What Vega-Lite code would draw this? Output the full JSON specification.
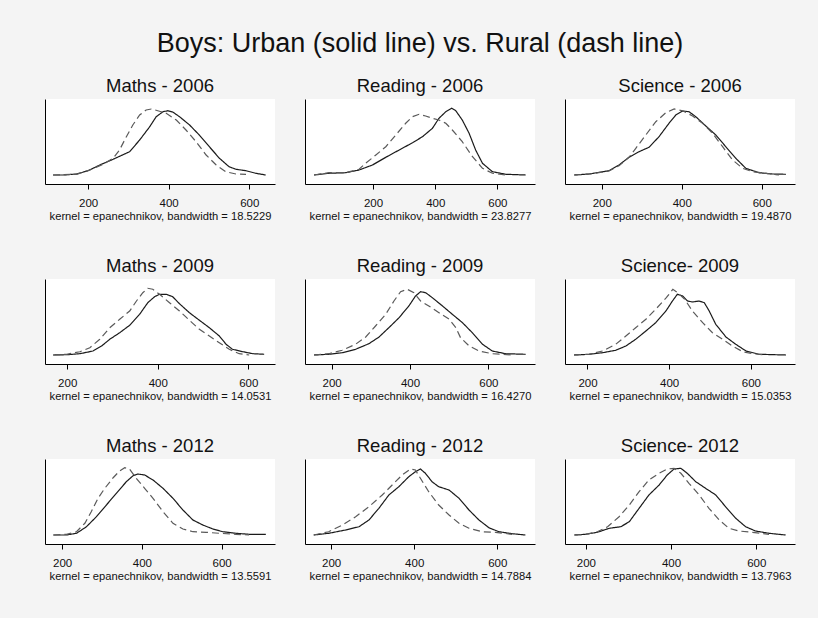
{
"$schema": "https://vega.github.io/schema/vega-lite/v6.json",
"background": "#f4f4f4",
"padding": {"left": 45, "top": 29, "right": 23, "bottom": 37},
"title": {"text": "Boys: Urban (solid line) vs. Rural (dash line)", "fontSize": 27, "fontWeight": "normal", "color": "#111", "anchor": "middle", "offset": 19},
"columns": 3,
"spacing": {"row": 34, "column": 30},
"datasets": {
"m06": [
{"area":"Urban","score":113,"density":0},{"area":"Urban","score":138,"density":0},{"area":"Urban","score":171,"density":0.00007},{"area":"Urban","score":200,"density":0.0003},{"area":"Urban","score":229,"density":0.0007},{"area":"Urban","score":262,"density":0.0011},{"area":"Urban","score":303,"density":0.00163},{"area":"Urban","score":328,"density":0.00245},{"area":"Urban","score":353,"density":0.00338},{"area":"Urban","score":369,"density":0.00408},{"area":"Urban","score":386,"density":0.00443},{"area":"Urban","score":398,"density":0.0045},{"area":"Urban","score":410,"density":0.00441},{"area":"Urban","score":427,"density":0.00408},{"area":"Urban","score":452,"density":0.0035},{"area":"Urban","score":476,"density":0.0028},{"area":"Urban","score":501,"density":0.00198},{"area":"Urban","score":526,"density":0.00117},{"area":"Urban","score":550,"density":0.00058},{"area":"Urban","score":567,"density":0.0004},{"area":"Urban","score":592,"density":0.0003},{"area":"Urban","score":616,"density":0.00012},{"area":"Urban","score":641,"density":0},
{"area":"Rural","score":113,"density":0},{"area":"Rural","score":171,"density":0.00005},{"area":"Rural","score":204,"density":0.00035},{"area":"Rural","score":237,"density":0.00075},{"area":"Rural","score":262,"density":0.00117},{"area":"Rural","score":278,"density":0.00175},{"area":"Rural","score":295,"density":0.00268},{"area":"Rural","score":311,"density":0.0035},{"area":"Rural","score":328,"density":0.0042},{"area":"Rural","score":344,"density":0.00455},{"area":"Rural","score":357,"density":0.00462},{"area":"Rural","score":373,"density":0.0045},{"area":"Rural","score":394,"density":0.00432},{"area":"Rural","score":419,"density":0.00385},{"area":"Rural","score":443,"density":0.00315},{"area":"Rural","score":468,"density":0.00233},{"area":"Rural","score":493,"density":0.0014},{"area":"Rural","score":518,"density":0.0007},{"area":"Rural","score":542,"density":0.00023},{"area":"Rural","score":567,"density":0.00007},{"area":"Rural","score":592,"density":0.00005}
],
"r06": [
{"area":"Urban","score":10,"density":0},{"area":"Urban","score":58,"density":0.00012},{"area":"Urban","score":112,"density":0.00016},{"area":"Urban","score":155,"density":0.00035},{"area":"Urban","score":198,"density":0.0007},{"area":"Urban","score":241,"density":0.00124},{"area":"Urban","score":284,"density":0.00175},{"area":"Urban","score":327,"density":0.00226},{"area":"Urban","score":359,"density":0.00268},{"area":"Urban","score":391,"density":0.00327},{"area":"Urban","score":412,"density":0.00397},{"area":"Urban","score":434,"density":0.00443},{"area":"Urban","score":453,"density":0.00467},{"area":"Urban","score":466,"density":0.0045},{"area":"Urban","score":487,"density":0.00385},{"area":"Urban","score":509,"density":0.00292},{"area":"Urban","score":530,"density":0.00175},{"area":"Urban","score":552,"density":0.00082},{"area":"Urban","score":584,"density":0.00023},{"area":"Urban","score":627,"density":0.00005},{"area":"Urban","score":691,"density":0},
{"area":"Rural","score":10,"density":0},{"area":"Rural","score":58,"density":0.00016},{"area":"Rural","score":112,"density":0.00016},{"area":"Rural","score":155,"density":0.0004},{"area":"Rural","score":176,"density":0.00082},{"area":"Rural","score":209,"density":0.0014},{"area":"Rural","score":241,"density":0.00198},{"area":"Rural","score":273,"density":0.0028},{"area":"Rural","score":305,"density":0.00362},{"area":"Rural","score":327,"density":0.00408},{"area":"Rural","score":348,"density":0.00425},{"area":"Rural","score":369,"density":0.00413},{"area":"Rural","score":391,"density":0.00397},{"area":"Rural","score":412,"density":0.00385},{"area":"Rural","score":434,"density":0.00362},{"area":"Rural","score":455,"density":0.00315},{"area":"Rural","score":487,"density":0.00233},{"area":"Rural","score":520,"density":0.00128},{"area":"Rural","score":552,"density":0.00047},{"area":"Rural","score":584,"density":0.00012},{"area":"Rural","score":627,"density":0}
],
"s06": [
{"area":"Urban","score":131,"density":0},{"area":"Urban","score":168,"density":0.00007},{"area":"Urban","score":218,"density":0.0003},{"area":"Urban","score":243,"density":0.0007},{"area":"Urban","score":268,"density":0.00124},{"area":"Urban","score":293,"density":0.00163},{"area":"Urban","score":318,"density":0.00194},{"area":"Urban","score":343,"density":0.00268},{"area":"Urban","score":368,"density":0.00362},{"area":"Urban","score":385,"density":0.0042},{"area":"Urban","score":402,"density":0.00448},{"area":"Urban","score":418,"density":0.00443},{"area":"Urban","score":435,"density":0.00408},{"area":"Urban","score":460,"density":0.00343},{"area":"Urban","score":485,"density":0.0028},{"area":"Urban","score":510,"density":0.00198},{"area":"Urban","score":535,"density":0.00117},{"area":"Urban","score":560,"density":0.00047},{"area":"Urban","score":593,"density":0.00016},{"area":"Urban","score":627,"density":0.00007},{"area":"Urban","score":660,"density":0.00005},
{"area":"Rural","score":131,"density":0},{"area":"Rural","score":177,"density":0.00009},{"area":"Rural","score":218,"density":0.00028},{"area":"Rural","score":243,"density":0.00065},{"area":"Rural","score":268,"density":0.00124},{"area":"Rural","score":285,"density":0.00187},{"area":"Rural","score":310,"density":0.0028},{"area":"Rural","score":335,"density":0.00373},{"area":"Rural","score":360,"density":0.00436},{"area":"Rural","score":381,"density":0.00462},{"area":"Rural","score":402,"density":0.0045},{"area":"Rural","score":427,"density":0.00413},{"area":"Rural","score":452,"density":0.00362},{"area":"Rural","score":477,"density":0.00292},{"area":"Rural","score":502,"density":0.00198},{"area":"Rural","score":527,"density":0.00105},{"area":"Rural","score":552,"density":0.00047},{"area":"Rural","score":577,"density":0.00023},{"area":"Rural","score":610,"density":0.00012},{"area":"Rural","score":643,"density":0}
],
"m09": [
{"area":"Urban","score":169,"density":0},{"area":"Urban","score":199,"density":0.00002},{"area":"Urban","score":228,"density":0.00009},{"area":"Urban","score":257,"density":0.00028},{"area":"Urban","score":276,"density":0.00063},{"area":"Urban","score":294,"density":0.0011},{"area":"Urban","score":316,"density":0.00156},{"area":"Urban","score":338,"density":0.00208},{"area":"Urban","score":360,"density":0.00285},{"area":"Urban","score":378,"density":0.00366},{"area":"Urban","score":393,"density":0.00408},{"area":"Urban","score":404,"density":0.00425},{"area":"Urban","score":419,"density":0.00425},{"area":"Urban","score":433,"density":0.00408},{"area":"Urban","score":448,"density":0.00359},{"area":"Urban","score":470,"density":0.00296},{"area":"Urban","score":492,"density":0.00243},{"area":"Urban","score":514,"density":0.00191},{"area":"Urban","score":536,"density":0.00133},{"area":"Urban","score":551,"density":0.00075},{"area":"Urban","score":565,"density":0.0004},{"area":"Urban","score":588,"density":0.00023},{"area":"Urban","score":610,"density":0.00009},{"area":"Urban","score":635,"density":0.00005},
{"area":"Rural","score":169,"density":0},{"area":"Rural","score":199,"density":0.00005},{"area":"Rural","score":228,"density":0.00023},{"area":"Rural","score":250,"density":0.00051},{"area":"Rural","score":272,"density":0.0011},{"area":"Rural","score":294,"density":0.00191},{"area":"Rural","score":316,"density":0.0025},{"area":"Rural","score":338,"density":0.00308},{"area":"Rural","score":353,"density":0.00378},{"area":"Rural","score":367,"density":0.00436},{"area":"Rural","score":378,"density":0.00467},{"area":"Rural","score":389,"density":0.0046},{"area":"Rural","score":404,"density":0.00425},{"area":"Rural","score":426,"density":0.00366},{"area":"Rural","score":448,"density":0.00308},{"area":"Rural","score":470,"density":0.00243},{"area":"Rural","score":492,"density":0.0018},{"area":"Rural","score":514,"density":0.00133},{"area":"Rural","score":536,"density":0.00086},{"area":"Rural","score":558,"density":0.0004},{"area":"Rural","score":580,"density":0.00009},{"area":"Rural","score":602,"density":0}
],
"r09": [
{"area":"Urban","score":155,"density":0},{"area":"Urban","score":193,"density":0.00005},{"area":"Urban","score":227,"density":0.00016},{"area":"Urban","score":261,"density":0.0004},{"area":"Urban","score":295,"density":0.00079},{"area":"Urban","score":321,"density":0.00126},{"area":"Urban","score":346,"density":0.00191},{"area":"Urban","score":372,"density":0.00261},{"area":"Urban","score":397,"density":0.00343},{"area":"Urban","score":414,"density":0.00413},{"area":"Urban","score":427,"density":0.00443},{"area":"Urban","score":440,"density":0.00436},{"area":"Urban","score":457,"density":0.00401},{"area":"Urban","score":483,"density":0.00343},{"area":"Urban","score":508,"density":0.00285},{"area":"Urban","score":534,"density":0.00226},{"area":"Urban","score":559,"density":0.00156},{"area":"Urban","score":585,"density":0.00075},{"area":"Urban","score":610,"density":0.00028},{"area":"Urban","score":644,"density":0.00009},{"area":"Urban","score":695,"density":0.00005},
{"area":"Rural","score":155,"density":0},{"area":"Rural","score":193,"density":0.00009},{"area":"Rural","score":227,"density":0.00033},{"area":"Rural","score":261,"density":0.00075},{"area":"Rural","score":287,"density":0.00126},{"area":"Rural","score":312,"density":0.00203},{"area":"Rural","score":338,"density":0.00285},{"area":"Rural","score":359,"density":0.00378},{"area":"Rural","score":376,"density":0.00443},{"area":"Rural","score":393,"density":0.0046},{"area":"Rural","score":410,"density":0.00436},{"area":"Rural","score":427,"density":0.00378},{"area":"Rural","score":448,"density":0.00343},{"area":"Rural","score":474,"density":0.00296},{"area":"Rural","score":500,"density":0.0025},{"area":"Rural","score":517,"density":0.00191},{"area":"Rural","score":529,"density":0.00121},{"area":"Rural","score":551,"density":0.00063},{"area":"Rural","score":576,"density":0.00028},{"area":"Rural","score":610,"density":0.00009},{"area":"Rural","score":661,"density":0}
],
"s09": [
{"area":"Urban","score":167,"density":0},{"area":"Urban","score":204,"density":0.00005},{"area":"Urban","score":237,"density":0.00016},{"area":"Urban","score":269,"density":0.00033},{"area":"Urban","score":294,"density":0.00063},{"area":"Urban","score":318,"density":0.0011},{"area":"Urban","score":343,"density":0.00168},{"area":"Urban","score":367,"density":0.00226},{"area":"Urban","score":392,"density":0.00308},{"area":"Urban","score":408,"density":0.00378},{"area":"Urban","score":420,"density":0.00425},{"area":"Urban","score":433,"density":0.00413},{"area":"Urban","score":445,"density":0.00378},{"area":"Urban","score":457,"density":0.00371},{"area":"Urban","score":473,"density":0.00378},{"area":"Urban","score":486,"density":0.00366},{"area":"Urban","score":498,"density":0.00308},{"area":"Urban","score":514,"density":0.00215},{"area":"Urban","score":539,"density":0.00126},{"area":"Urban","score":563,"density":0.00075},{"area":"Urban","score":588,"density":0.00028},{"area":"Urban","score":620,"density":0.00005},{"area":"Urban","score":686,"density":0},
{"area":"Rural","score":167,"density":0},{"area":"Rural","score":204,"density":0.00005},{"area":"Rural","score":237,"density":0.00028},{"area":"Rural","score":269,"density":0.00075},{"area":"Rural","score":294,"density":0.00133},{"area":"Rural","score":318,"density":0.00191},{"area":"Rural","score":343,"density":0.0025},{"area":"Rural","score":367,"density":0.0032},{"area":"Rural","score":393,"density":0.00401},{"area":"Rural","score":409,"density":0.0046},{"area":"Rural","score":421,"density":0.00436},{"area":"Rural","score":438,"density":0.0039},{"area":"Rural","score":457,"density":0.00308},{"area":"Rural","score":482,"density":0.00226},{"area":"Rural","score":506,"density":0.00156},{"area":"Rural","score":531,"density":0.0011},{"area":"Rural","score":555,"density":0.00063},{"area":"Rural","score":580,"density":0.00023},{"area":"Rural","score":604,"density":0.00009},{"area":"Rural","score":637,"density":0}
],
"m12": [
{"area":"Urban","score":178,"density":0},{"area":"Urban","score":211,"density":0},{"area":"Urban","score":236,"density":0.00012},{"area":"Urban","score":261,"density":0.00058},{"area":"Urban","score":286,"density":0.00128},{"area":"Urban","score":311,"density":0.0021},{"area":"Urban","score":336,"density":0.00292},{"area":"Urban","score":361,"density":0.00373},{"area":"Urban","score":378,"density":0.00415},{"area":"Urban","score":390,"density":0.00427},{"area":"Urban","score":407,"density":0.0042},{"area":"Urban","score":428,"density":0.00385},{"area":"Urban","score":453,"density":0.00327},{"area":"Urban","score":478,"density":0.00257},{"area":"Urban","score":503,"density":0.00175},{"area":"Urban","score":528,"density":0.00105},{"area":"Urban","score":553,"density":0.0007},{"area":"Urban","score":578,"density":0.00042},{"area":"Urban","score":603,"density":0.00023},{"area":"Urban","score":636,"density":0.00012},{"area":"Urban","score":669,"density":0.00005},{"area":"Urban","score":711,"density":0.00005},
{"area":"Rural","score":178,"density":0},{"area":"Rural","score":211,"density":0.00005},{"area":"Rural","score":236,"density":0.00023},{"area":"Rural","score":257,"density":0.00082},{"area":"Rural","score":273,"density":0.00163},{"area":"Rural","score":290,"density":0.00257},{"area":"Rural","score":307,"density":0.00327},{"area":"Rural","score":328,"density":0.00401},{"area":"Rural","score":344,"density":0.00448},{"area":"Rural","score":357,"density":0.00471},{"area":"Rural","score":369,"density":0.00462},{"area":"Rural","score":386,"density":0.00397},{"area":"Rural","score":407,"density":0.00327},{"area":"Rural","score":428,"density":0.00257},{"area":"Rural","score":453,"density":0.00163},{"area":"Rural","score":478,"density":0.00082},{"area":"Rural","score":503,"density":0.00042},{"area":"Rural","score":528,"density":0.00023},{"area":"Rural","score":561,"density":0.00019},{"area":"Rural","score":594,"density":0.00012},{"area":"Rural","score":636,"density":0.00005},{"area":"Rural","score":669,"density":0}
],
"r12": [
{"area":"Urban","score":158,"density":0},{"area":"Urban","score":194,"density":0.00012},{"area":"Urban","score":235,"density":0.00035},{"area":"Urban","score":267,"density":0.00058},{"area":"Urban","score":291,"density":0.00105},{"area":"Urban","score":315,"density":0.00187},{"area":"Urban","score":339,"density":0.0028},{"area":"Urban","score":363,"density":0.00338},{"area":"Urban","score":387,"density":0.00408},{"area":"Urban","score":403,"density":0.00443},{"area":"Urban","score":415,"density":0.00462},{"area":"Urban","score":427,"density":0.00432},{"area":"Urban","score":443,"density":0.00373},{"area":"Urban","score":459,"density":0.00338},{"area":"Urban","score":484,"density":0.00315},{"area":"Urban","score":508,"density":0.00257},{"area":"Urban","score":532,"density":0.00175},{"area":"Urban","score":556,"density":0.00105},{"area":"Urban","score":580,"density":0.00051},{"area":"Urban","score":604,"density":0.00023},{"area":"Urban","score":636,"density":0.00009},{"area":"Urban","score":668,"density":0},
{"area":"Rural","score":158,"density":0},{"area":"Rural","score":194,"density":0.00023},{"area":"Rural","score":227,"density":0.0007},{"area":"Rural","score":259,"density":0.00128},{"area":"Rural","score":291,"density":0.00198},{"area":"Rural","score":323,"density":0.0028},{"area":"Rural","score":347,"density":0.0035},{"area":"Rural","score":371,"density":0.0042},{"area":"Rural","score":391,"density":0.00462},{"area":"Rural","score":403,"density":0.00455},{"area":"Rural","score":415,"density":0.00397},{"area":"Rural","score":435,"density":0.00303},{"area":"Rural","score":459,"density":0.0021},{"area":"Rural","score":484,"density":0.0014},{"area":"Rural","score":508,"density":0.00082},{"area":"Rural","score":532,"density":0.00047},{"area":"Rural","score":564,"density":0.00023},{"area":"Rural","score":596,"density":0.00019},{"area":"Rural","score":636,"density":0.00005}
],
"s12": [
{"area":"Urban","score":173,"density":0},{"area":"Urban","score":200,"density":0.00005},{"area":"Urban","score":227,"density":0.00019},{"area":"Urban","score":255,"density":0.00047},{"area":"Urban","score":282,"density":0.00058},{"area":"Urban","score":302,"density":0.00093},{"area":"Urban","score":325,"density":0.00187},{"area":"Urban","score":348,"density":0.0028},{"area":"Urban","score":372,"density":0.0035},{"area":"Urban","score":391,"density":0.0042},{"area":"Urban","score":407,"density":0.00462},{"area":"Urban","score":423,"density":0.00467},{"area":"Urban","score":438,"density":0.00432},{"area":"Urban","score":458,"density":0.00373},{"area":"Urban","score":481,"density":0.00327},{"area":"Urban","score":505,"density":0.0028},{"area":"Urban","score":528,"density":0.00198},{"area":"Urban","score":552,"density":0.00117},{"area":"Urban","score":575,"density":0.00058},{"area":"Urban","score":598,"density":0.00028},{"area":"Urban","score":630,"density":0.00012},{"area":"Urban","score":669,"density":0},
{"area":"Rural","score":173,"density":0},{"area":"Rural","score":200,"density":0.00005},{"area":"Rural","score":227,"density":0.00023},{"area":"Rural","score":251,"density":0.00058},{"area":"Rural","score":278,"density":0.00128},{"area":"Rural","score":302,"density":0.0021},{"area":"Rural","score":325,"density":0.00303},{"area":"Rural","score":348,"density":0.00385},{"area":"Rural","score":372,"density":0.00432},{"area":"Rural","score":391,"density":0.00462},{"area":"Rural","score":407,"density":0.00467},{"area":"Rural","score":423,"density":0.00432},{"area":"Rural","score":442,"density":0.00362},{"area":"Rural","score":466,"density":0.0028},{"area":"Rural","score":489,"density":0.00187},{"area":"Rural","score":513,"density":0.00105},{"area":"Rural","score":536,"density":0.00047},{"area":"Rural","score":559,"density":0.00028},{"area":"Rural","score":591,"density":0.00019},{"area":"Rural","score":630,"density":0.00005}
]
},
"concat": [
{"title": "Maths - 2006", "data": {"name": "m06"}, "width": 230, "height": 85, "mark": {"type": "line", "strokeWidth": 1.2},
 "encoding": {"x": {"field": "score", "type": "quantitative", "scale": {"domain": [93, 664], "nice": false, "zero": false}, "axis": {"values": [200, 400, 600], "title": "kernel = epanechnikov, bandwidth = 18.5229"}},
  "y": {"field": "density", "type": "quantitative", "scale": {"domain": [-0.00063, 0.00532], "nice": false, "zero": false}, "axis": {"title": null, "labels": false, "ticks": false}},
  "strokeDash": {"field": "area", "type": "nominal", "scale": {"domain": ["Urban", "Rural"], "range": [[1, 0], [7, 4]]}, "legend": null},
  "color": {"field": "area", "type": "nominal", "scale": {"domain": ["Urban", "Rural"], "range": ["#1a1a1a", "#5a5a5a"]}, "legend": null}}},
{"title": "Reading - 2006", "data": {"name": "r06"}, "width": 230, "height": 85, "mark": {"type": "line", "strokeWidth": 1.2},
 "encoding": {"x": {"field": "score", "type": "quantitative", "scale": {"domain": [-19, 721], "nice": false, "zero": false}, "axis": {"values": [200, 400, 600], "title": "kernel = epanechnikov, bandwidth = 23.8277"}},
  "y": {"field": "density", "type": "quantitative", "scale": {"domain": [-0.00063, 0.00532], "nice": false, "zero": false}, "axis": {"title": null, "labels": false, "ticks": false}},
  "strokeDash": {"field": "area", "type": "nominal", "scale": {"domain": ["Urban", "Rural"], "range": [[1, 0], [7, 4]]}, "legend": null},
  "color": {"field": "area", "type": "nominal", "scale": {"domain": ["Urban", "Rural"], "range": ["#1a1a1a", "#5a5a5a"]}, "legend": null}}},
{"title": "Science - 2006", "data": {"name": "s06"}, "width": 230, "height": 85, "mark": {"type": "line", "strokeWidth": 1.2},
 "encoding": {"x": {"field": "score", "type": "quantitative", "scale": {"domain": [108, 683], "nice": false, "zero": false}, "axis": {"values": [200, 400, 600], "title": "kernel = epanechnikov, bandwidth = 19.4870"}},
  "y": {"field": "density", "type": "quantitative", "scale": {"domain": [-0.00063, 0.00532], "nice": false, "zero": false}, "axis": {"title": null, "labels": false, "ticks": false}},
  "strokeDash": {"field": "area", "type": "nominal", "scale": {"domain": ["Urban", "Rural"], "range": [[1, 0], [7, 4]]}, "legend": null},
  "color": {"field": "area", "type": "nominal", "scale": {"domain": ["Urban", "Rural"], "range": ["#1a1a1a", "#5a5a5a"]}, "legend": null}}},
{"title": "Maths - 2009", "data": {"name": "m09"}, "width": 230, "height": 85, "mark": {"type": "line", "strokeWidth": 1.2},
 "encoding": {"x": {"field": "score", "type": "quantitative", "scale": {"domain": [151, 659], "nice": false, "zero": false}, "axis": {"values": [200, 400, 600], "title": "kernel = epanechnikov, bandwidth = 14.0531"}},
  "y": {"field": "density", "type": "quantitative", "scale": {"domain": [-0.00063, 0.00532], "nice": false, "zero": false}, "axis": {"title": null, "labels": false, "ticks": false}},
  "strokeDash": {"field": "area", "type": "nominal", "scale": {"domain": ["Urban", "Rural"], "range": [[1, 0], [7, 4]]}, "legend": null},
  "color": {"field": "area", "type": "nominal", "scale": {"domain": ["Urban", "Rural"], "range": ["#1a1a1a", "#5a5a5a"]}, "legend": null}}},
{"title": "Reading - 2009", "data": {"name": "r09"}, "width": 230, "height": 85, "mark": {"type": "line", "strokeWidth": 1.2},
 "encoding": {"x": {"field": "score", "type": "quantitative", "scale": {"domain": [132, 719], "nice": false, "zero": false}, "axis": {"values": [200, 400, 600], "title": "kernel = epanechnikov, bandwidth = 16.4270"}},
  "y": {"field": "density", "type": "quantitative", "scale": {"domain": [-0.00063, 0.00532], "nice": false, "zero": false}, "axis": {"title": null, "labels": false, "ticks": false}},
  "strokeDash": {"field": "area", "type": "nominal", "scale": {"domain": ["Urban", "Rural"], "range": [[1, 0], [7, 4]]}, "legend": null},
  "color": {"field": "area", "type": "nominal", "scale": {"domain": ["Urban", "Rural"], "range": ["#1a1a1a", "#5a5a5a"]}, "legend": null}}},
{"title": "Science- 2009", "data": {"name": "s09"}, "width": 230, "height": 85, "mark": {"type": "line", "strokeWidth": 1.2},
 "encoding": {"x": {"field": "score", "type": "quantitative", "scale": {"domain": [145, 708], "nice": false, "zero": false}, "axis": {"values": [200, 400, 600], "title": "kernel = epanechnikov, bandwidth = 15.0353"}},
  "y": {"field": "density", "type": "quantitative", "scale": {"domain": [-0.00063, 0.00532], "nice": false, "zero": false}, "axis": {"title": null, "labels": false, "ticks": false}},
  "strokeDash": {"field": "area", "type": "nominal", "scale": {"domain": ["Urban", "Rural"], "range": [[1, 0], [7, 4]]}, "legend": null},
  "color": {"field": "area", "type": "nominal", "scale": {"domain": ["Urban", "Rural"], "range": ["#1a1a1a", "#5a5a5a"]}, "legend": null}}},
{"title": "Maths - 2012", "data": {"name": "m12"}, "width": 230, "height": 85, "mark": {"type": "line", "strokeWidth": 1.2},
 "encoding": {"x": {"field": "score", "type": "quantitative", "scale": {"domain": [157, 734], "nice": false, "zero": false}, "axis": {"values": [200, 400, 600], "title": "kernel = epanechnikov, bandwidth = 13.5591"}},
  "y": {"field": "density", "type": "quantitative", "scale": {"domain": [-0.00063, 0.00532], "nice": false, "zero": false}, "axis": {"title": null, "labels": false, "ticks": false}},
  "strokeDash": {"field": "area", "type": "nominal", "scale": {"domain": ["Urban", "Rural"], "range": [[1, 0], [7, 4]]}, "legend": null},
  "color": {"field": "area", "type": "nominal", "scale": {"domain": ["Urban", "Rural"], "range": ["#1a1a1a", "#5a5a5a"]}, "legend": null}}},
{"title": "Reading - 2012", "data": {"name": "r12"}, "width": 230, "height": 85, "mark": {"type": "line", "strokeWidth": 1.2},
 "encoding": {"x": {"field": "score", "type": "quantitative", "scale": {"domain": [137, 691], "nice": false, "zero": false}, "axis": {"values": [200, 400, 600], "title": "kernel = epanechnikov, bandwidth = 14.7884"}},
  "y": {"field": "density", "type": "quantitative", "scale": {"domain": [-0.00063, 0.00532], "nice": false, "zero": false}, "axis": {"title": null, "labels": false, "ticks": false}},
  "strokeDash": {"field": "area", "type": "nominal", "scale": {"domain": ["Urban", "Rural"], "range": [[1, 0], [7, 4]]}, "legend": null},
  "color": {"field": "area", "type": "nominal", "scale": {"domain": ["Urban", "Rural"], "range": ["#1a1a1a", "#5a5a5a"]}, "legend": null}}},
{"title": "Science- 2012", "data": {"name": "s12"}, "width": 230, "height": 85, "mark": {"type": "line", "strokeWidth": 1.2},
 "encoding": {"x": {"field": "score", "type": "quantitative", "scale": {"domain": [151, 691], "nice": false, "zero": false}, "axis": {"values": [200, 400, 600], "title": "kernel = epanechnikov, bandwidth = 13.7963"}},
  "y": {"field": "density", "type": "quantitative", "scale": {"domain": [-0.00063, 0.00532], "nice": false, "zero": false}, "axis": {"title": null, "labels": false, "ticks": false}},
  "strokeDash": {"field": "area", "type": "nominal", "scale": {"domain": ["Urban", "Rural"], "range": [[1, 0], [7, 4]]}, "legend": null},
  "color": {"field": "area", "type": "nominal", "scale": {"domain": ["Urban", "Rural"], "range": ["#1a1a1a", "#5a5a5a"]}, "legend": null}}}
],
"config": {
 "font": "Liberation Sans",
 "view": {"fill": "white", "stroke": null},
 "title": {"fontSize": 18.5, "fontWeight": "normal", "color": "#111", "offset": 4},
 "axis": {"domainColor": "#000", "tickColor": "#000", "labelColor": "#111", "titleColor": "#111", "grid": false, "domainWidth": 1},
 "axisX": {"labelFontSize": 11.5, "tickSize": 5, "labelPadding": 8, "titleFontSize": 11.2, "titleFontWeight": "normal", "titlePadding": 2}
}
}
